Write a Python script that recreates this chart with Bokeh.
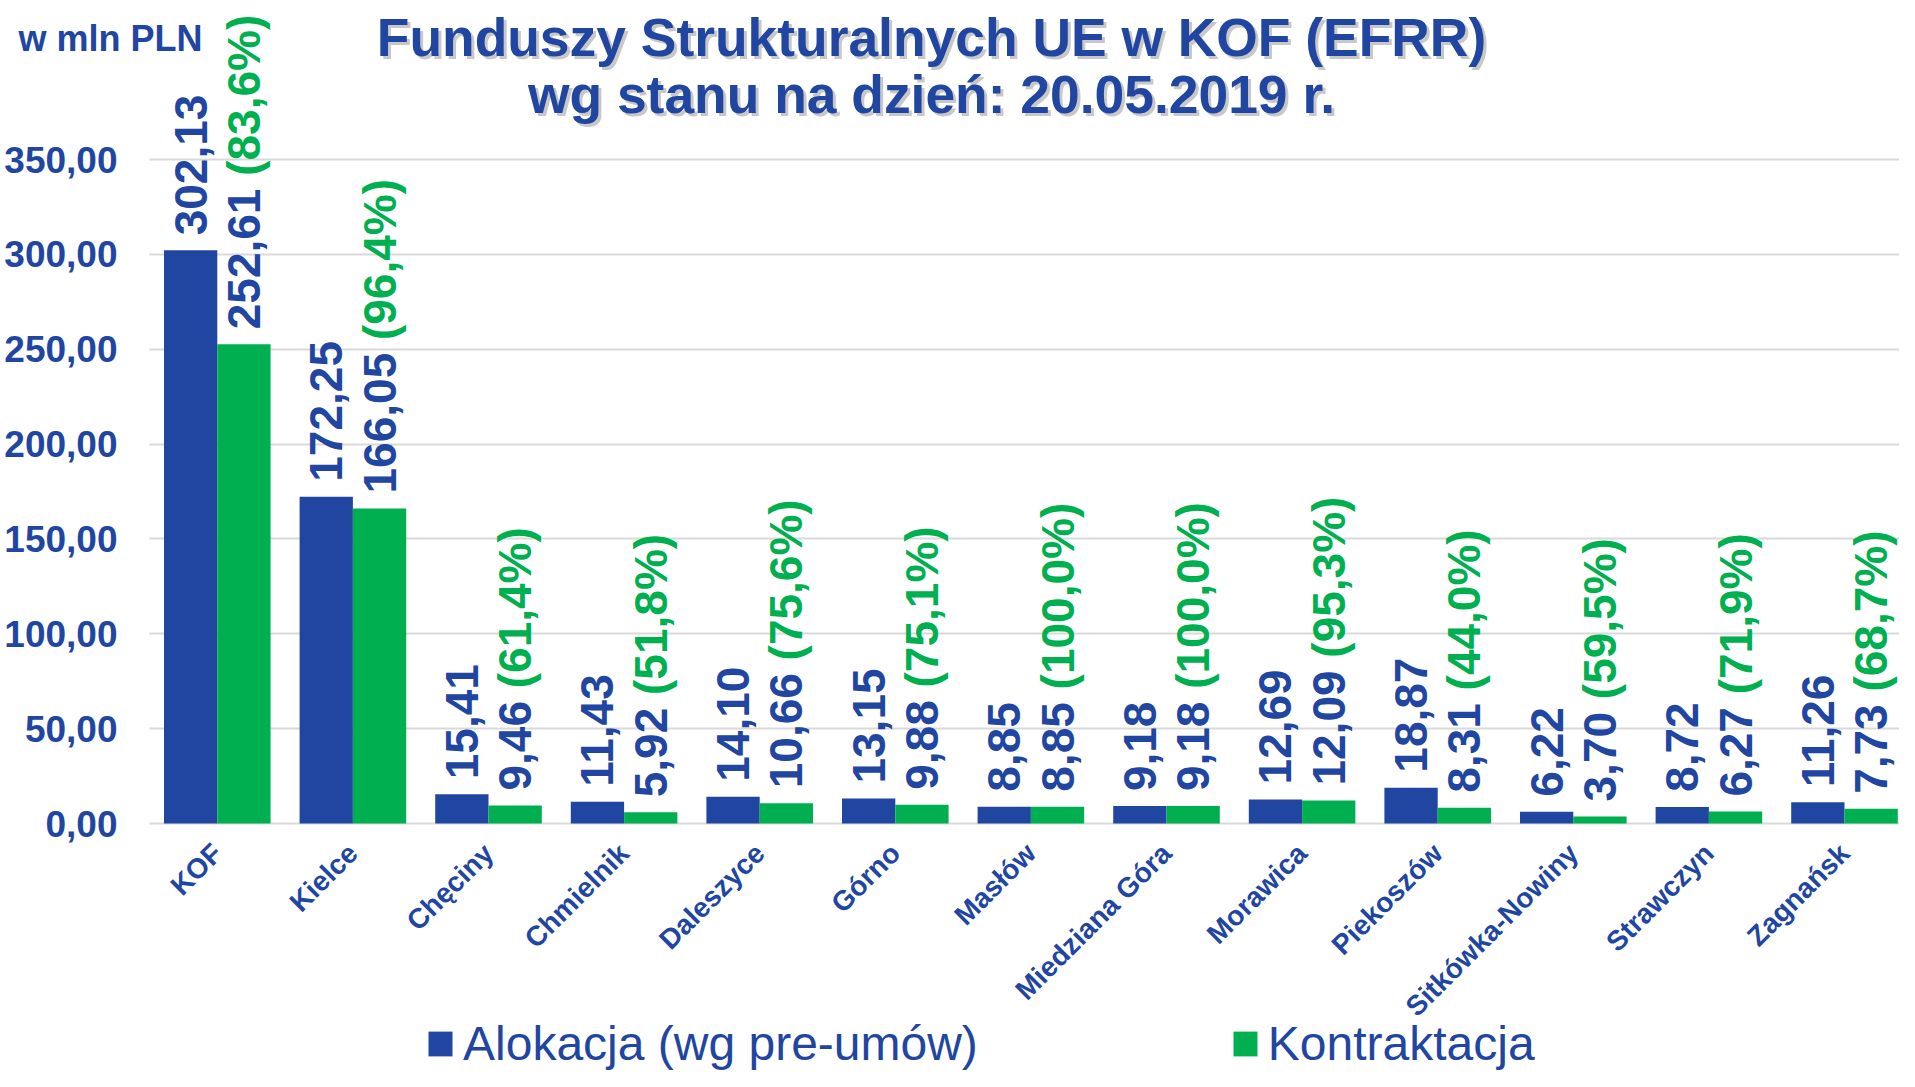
import math
from bokeh.plotting import figure
from bokeh.models import (Range1d, FixedTicker, Label, Legend, LegendItem,
                          ColumnDataSource, Grid)
from bokeh.transform import dodge
from bokeh.core.properties import value
from bokeh.embed import file_html
from bokeh.resources import INLINE

# ---------------- data ----------------
categories = ["KOF", "Kielce", "Chęciny", "Chmielnik", "Daleszyce", "Górno",
              "Masłów", "Miedziana Góra", "Morawica", "Piekoszów",
              "Sitkówka-Nowiny", "Strawczyn", "Zagnańsk"]
alokacja = [302.13, 172.25, 15.41, 11.43, 14.10, 13.15, 8.85, 9.18, 12.69,
            18.87, 6.22, 8.72, 11.26]
kontraktacja = [252.61, 166.05, 9.46, 5.92, 10.66, 9.88, 8.85, 9.18, 12.09,
                8.31, 3.70, 6.27, 7.73]
procent = [83.6, 96.4, 61.4, 51.8, 75.6, 75.1, 100.0, 100.0, 95.3, 44.0,
           59.5, 71.9, 68.7]
y_ticks = [0, 50, 100, 150, 200, 250, 300, 350]
y_tick_labels = ["0,00", "50,00", "100,00", "150,00", "200,00", "250,00",
                 "300,00", "350,00"]
title_lines = ["Funduszy Strukturalnych UE w KOF (EFRR)",
               "wg stanu na dzień: 20.05.2019 r."]
unit_label = "w mln PLN"
series_names = ["Alokacja (wg pre-umów)", "Kontraktacja"]

# ---------------- style / layout ----------------
BLUE = "#2146A1"
GREEN = "#00B050"
FONT = "Liberation Sans"

W, H = 1899, 1071
AX_LEFT_PX = 149          # pixel where the category area starts
ZERO_PX = 823             # pixel row of value 0
PX_PER_CAT = 135.6
PX_PER_UNIT = 1.8971
X0 = -0.5 - AX_LEFT_PX / PX_PER_CAT
X1 = -0.5 + (W - AX_LEFT_PX) / PX_PER_CAT
Y1 = ZERO_PX / PX_PER_UNIT
Y0 = -(H - ZERO_PX) / PX_PER_UNIT


def dx(px):
    return X0 + px / PX_PER_CAT


def dy(py):
    return Y1 - py / PX_PER_UNIT


def fmt(v):
    return f"{v:.2f}".replace(".", ",")


CHAR_W = {c: 0.556 for c in "0123456789"}
CHAR_W.update({",": 0.278, " ": 0.278, "(": 0.333, ")": 0.333, "%": 0.889})


def text_w(s, size):
    return sum(CHAR_W.get(c, 0.556) for c in s) * size


LBL_FS = 46
GAP = 15

idx = list(range(len(categories)))
a_txt = [fmt(v) for v in alokacja]
k_txt = [fmt(v) for v in kontraktacja]
p_txt = ["(" + f"{v:.1f}".replace(".", ",") + "%)" for v in procent]
p_off = [-(GAP + text_w(t + " ", LBL_FS)) for t in k_txt]

src = ColumnDataSource(dict(x=idx, a=alokacja, k=kontraktacja, a_txt=a_txt,
                            k_txt=k_txt, p_txt=p_txt, p_off=p_off))

p = figure(width=W, height=H, x_range=Range1d(X0, X1), y_range=Range1d(Y0, Y1),
           output_backend="svg", toolbar_location=None,
           min_border_left=0, min_border_right=0, min_border_top=0,
           min_border_bottom=0)
p.outline_line_color = None
p.background_fill_color = "white"
p.border_fill_color = "white"

# grid lines (only across the category area)
p.xgrid.visible = False
p.ygrid.grid_line_color = "#D9D9D9"
p.ygrid.grid_line_width = 2
if "cross_bounds" in Grid.properties():
    p.ygrid.cross_bounds = (-0.5, X1)
else:
    p.ygrid.visible = False
    p.segment(x0=-0.5, x1=X1, y0=y_ticks, y1=y_ticks, line_color="#D9D9D9",
              line_width=2)

BW = 0.393
ra = p.vbar(x=dodge("x", -BW / 2, range=p.x_range), top="a", width=BW,
            source=src, fill_color=BLUE, line_color=None)
rk = p.vbar(x=dodge("x", BW / 2, range=p.x_range), top="k", width=BW,
            source=src, fill_color=GREEN, line_color=None)

common = dict(angle=math.pi / 2, text_align="left", text_baseline="middle",
              text_font=value(FONT), text_font_style="bold",
              text_font_size=f"{LBL_FS}px", source=src)
p.text(x=dodge("x", -BW / 2, range=p.x_range), y="a", text="a_txt",
       text_color=BLUE, y_offset=-GAP, **common)
p.text(x=dodge("x", BW / 2, range=p.x_range), y="k", text="k_txt",
       text_color=BLUE, y_offset=-GAP, **common)
p.text(x=dodge("x", BW / 2, range=p.x_range), y="k", text="p_txt",
       text_color=GREEN, y_offset="p_off", **common)

# axes (drawn at fixed data locations so they sit inside the canvas)
p.yaxis.fixed_location = -0.5
p.yaxis.ticker = FixedTicker(ticks=y_ticks)
p.yaxis.major_label_overrides = {t: l for t, l in zip(y_ticks, y_tick_labels)}
p.yaxis.axis_line_color = None
p.yaxis.major_tick_line_color = None
p.yaxis.minor_tick_line_color = None
p.yaxis.major_label_standoff = 26
p.yaxis.major_label_text_font = FONT
p.yaxis.major_label_text_font_style = "bold"
p.yaxis.major_label_text_font_size = "37px"
p.yaxis.major_label_text_color = BLUE

p.xaxis.fixed_location = 0
p.xaxis.ticker = FixedTicker(ticks=idx)
p.xaxis.major_label_overrides = {i: c for i, c in zip(idx, categories)}
p.xaxis.axis_line_color = None
p.xaxis.major_tick_line_color = None
p.xaxis.minor_tick_line_color = None
p.xaxis.major_label_orientation = math.pi / 4
p.xaxis.major_label_standoff = 19
p.xaxis.major_label_text_font = FONT
p.xaxis.major_label_text_font_style = "bold"
p.xaxis.major_label_text_font_size = "28px"
p.xaxis.major_label_text_color = BLUE


def baseline_y(py, fs):
    return dy(py - 0.41 * fs)


# titles (with soft shadow)
TFS = 53.4
title_pos = [(931, 59), (931, 116)]
for (tx, ty), txt in zip(title_pos, title_lines):
    p.add_layout(Label(x=dx(tx + 3), y=baseline_y(ty + 3, TFS), text=txt,
                       text_align="center", text_baseline="alphabetic",
                       text_font=FONT, text_font_style="bold",
                       text_font_size=f"{TFS}px", text_color="#9A9A9A",
                       text_alpha=0.55))
    p.add_layout(Label(x=dx(tx), y=baseline_y(ty, TFS), text=txt,
                       text_align="center", text_baseline="alphabetic",
                       text_font=FONT, text_font_style="bold",
                       text_font_size=f"{TFS}px", text_color=BLUE))

p.add_layout(Label(x=dx(18), y=baseline_y(53, 36), text=unit_label,
                   text_align="left", text_baseline="alphabetic",
                   text_font=FONT, text_font_style="bold",
                   text_font_size="36px", text_color=BLUE))

legend = Legend(items=[LegendItem(label=series_names[0], renderers=[ra]),
                       LegendItem(label=series_names[1], renderers=[rk])],
                location=(425, 0), orientation="horizontal",
                label_text_font=FONT, label_text_font_size="48px",
                label_text_color=BLUE, glyph_width=30, glyph_height=31,
                label_standoff=8, spacing=252, padding=0, margin=0,
                border_line_color=None, background_fill_alpha=0)
p.add_layout(legend)

open("out.html", "w").write(file_html(p, INLINE))
